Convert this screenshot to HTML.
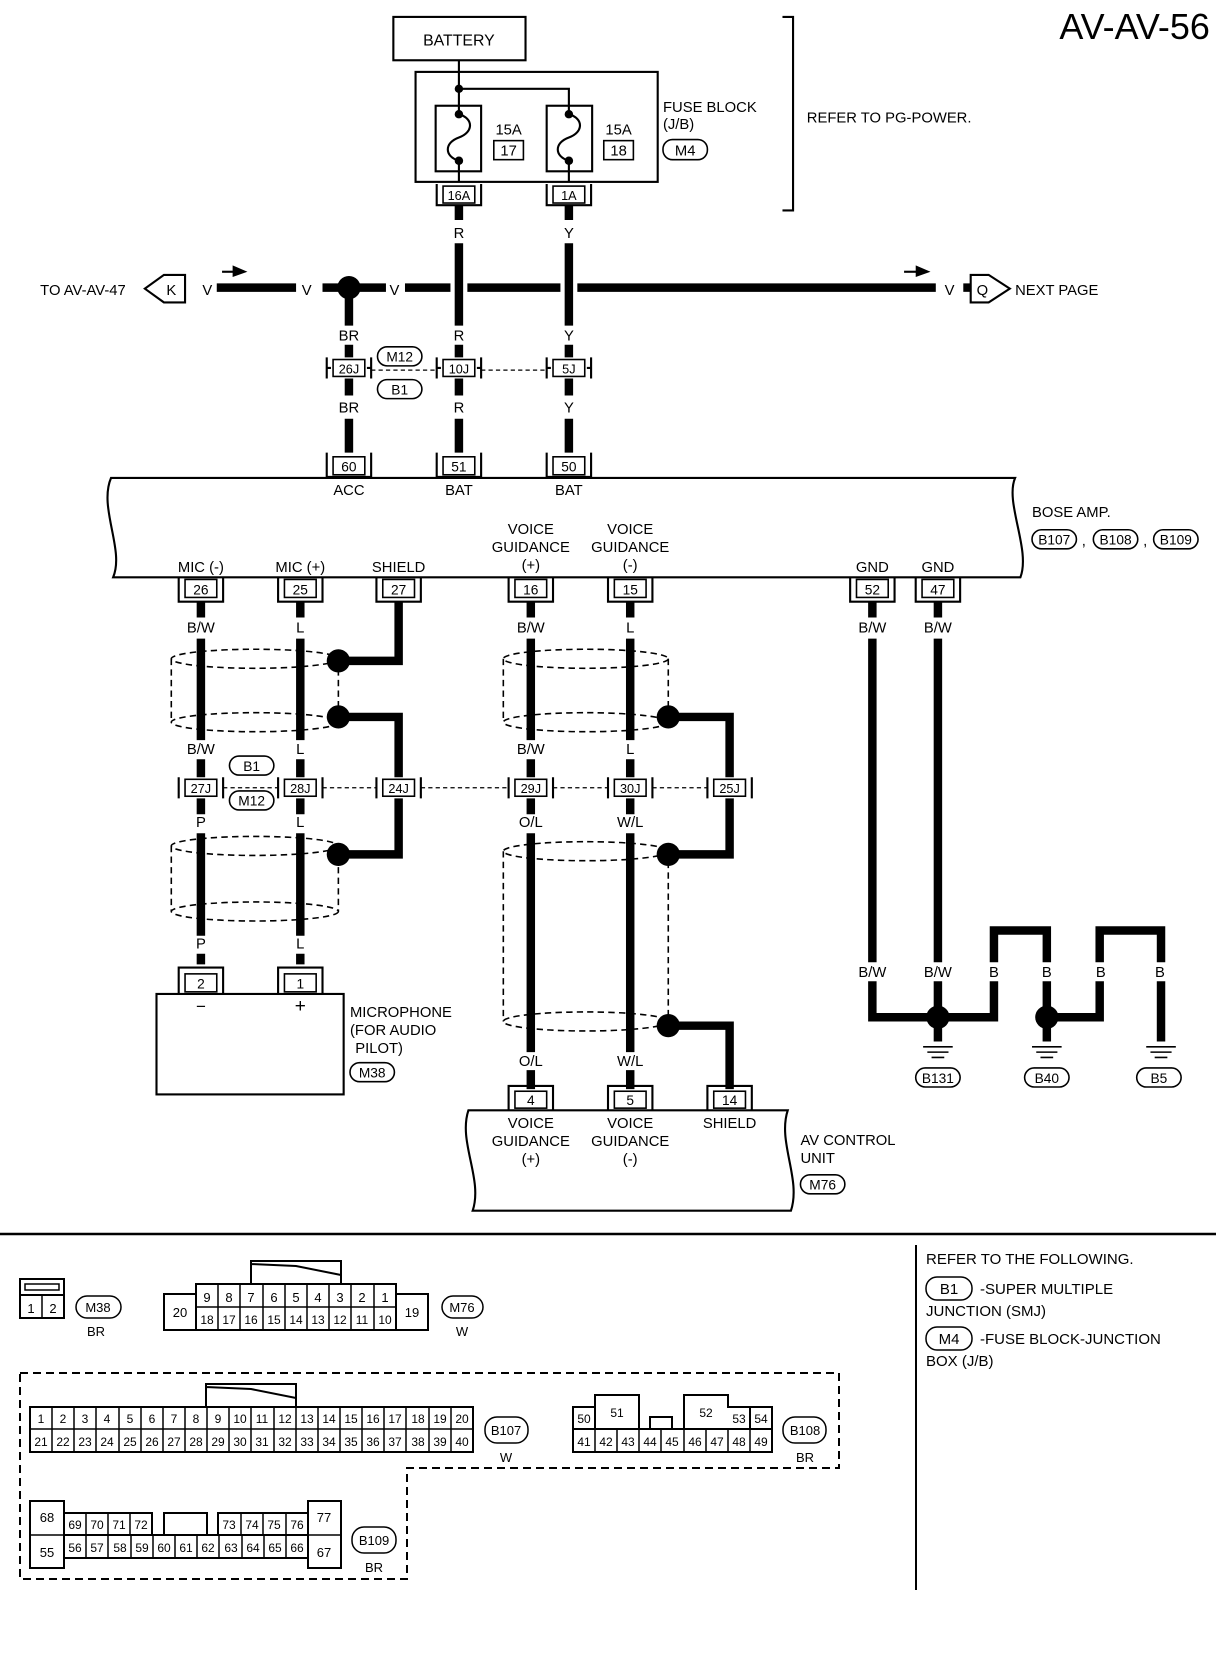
<!DOCTYPE html>
<html><head><meta charset="utf-8"><style>
html,body{margin:0;padding:0;background:#fff}
svg{display:block}
text{font-family:"Liberation Sans",sans-serif;fill:#000}
</style></head><body>
<svg width="1216" height="1660" viewBox="0 0 1216 1660" xmlns="http://www.w3.org/2000/svg">
<g transform="scale(1.0574)">
<g font-size="14" text-anchor="middle">
<text x="1073" y="37" font-size="34">AV-AV-56</text>
<!-- battery -->
<rect x="372" y="16" width="125" height="41" fill="none" stroke="#000" stroke-width="2"/>
<text x="434" y="43" font-size="15">BATTERY</text>
<line x1="434" y1="57" x2="434" y2="84" stroke="#000" stroke-width="2"/>
<rect x="393" y="68" width="229" height="104" fill="none" stroke="#000" stroke-width="2"/>
<path d="M434 84 H538 V104" fill="none" stroke="#000" stroke-width="2"/>
<circle cx="434" cy="84" r="4"/>
<rect x="412" y="100" width="43" height="62" fill="none" stroke="#000" stroke-width="2"/>
<rect x="517" y="100" width="43" height="62" fill="none" stroke="#000" stroke-width="2"/>
<path d="M434 84 V108 C448 112,448 125,434 130 C420 135,420 148,434 152 V172" fill="none" stroke="#000" stroke-width="2"/>
<path d="M538 104 V108 C552 112,552 125,538 130 C524 135,524 148,538 152 V172" fill="none" stroke="#000" stroke-width="2"/>
<circle cx="434" cy="108" r="4"/><circle cx="434" cy="152" r="4"/>
<circle cx="538" cy="108" r="4"/><circle cx="538" cy="152" r="4"/>
<text x="481" y="127">15A</text><rect x="467" y="133" width="28" height="18" fill="none" stroke="#000" stroke-width="1.5"/><text x="481" y="147">17</text>
<text x="585" y="127">15A</text><rect x="571" y="133" width="28" height="18" fill="none" stroke="#000" stroke-width="1.5"/><text x="585" y="147">18</text>
<text x="627" y="106" text-anchor="start">FUSE BLOCK</text>
<text x="627" y="122" text-anchor="start">(J/B)</text>
<rect x="627" y="132" width="42" height="19" rx="9" fill="none" stroke="#000" stroke-width="1.5"/><text x="648" y="147">M4</text>
<path d="M740 16 H750 V199 H740" fill="none" stroke="#000" stroke-width="2"/>
<text x="763" y="116" text-anchor="start">REFER TO PG-POWER.</text>

<g fill="none" stroke="#000">
<path d="M413 174 V194 H455 V174" stroke-width="2"/><rect x="419" y="176" width="30" height="16" stroke-width="1.5"/>
<path d="M517 174 V194 H559 V174" stroke-width="2"/><rect x="523" y="176" width="30" height="16" stroke-width="1.5"/>
</g>
<text x="434" y="189" font-size="12">16A</text><text x="538" y="189" font-size="12">1A</text>

<g stroke="#000" stroke-width="8" fill="none">
<path d="M434 194 V208 M434 230 V308 M434 326 V338 M434 358 V374 M434 396 V428"/>
<path d="M538 194 V208 M538 230 V308 M538 326 V338 M538 358 V374 M538 396 V428"/>
<path d="M330 272 V308 M330 326 V338 M330 358 V374 M330 396 V428"/>
<path d="M205 272 H280 M305 272 H365 M383 272 H426 M442 272 H530 M546 272 H885"/>
<path d="M911 272 H918"/>
</g>
<circle cx="330" cy="272" r="11"/>
<path d="M210 257 H222" stroke="#000" stroke-width="2"/><path d="M220 251 L234 257 L220 262 Z"/>
<path d="M855 257 H868" stroke="#000" stroke-width="2"/><path d="M866 251 L880 257 L866 262 Z"/>
<text x="196" y="279">V</text><text x="290" y="279">V</text><text x="373" y="279">V</text><text x="898" y="279">V</text>
<text x="38" y="279" text-anchor="start">TO AV-AV-47</text>
<path d="M175 260 H155 L137 273 L155 286 H175 Z" fill="none" stroke="#000" stroke-width="2"/><text x="162" y="279">K</text>
<path d="M918 260 H935 L955 273 L935 286 H918 Z" fill="none" stroke="#000" stroke-width="2"/><text x="929" y="279">Q</text>
<text x="960" y="279" text-anchor="start">NEXT PAGE</text>
<text x="434" y="225">R</text><text x="538" y="225">Y</text>
<text x="330" y="322">BR</text><text x="434" y="322">R</text><text x="538" y="322">Y</text>
<text x="330" y="390">BR</text><text x="434" y="390">R</text><text x="538" y="390">Y</text>
<g fill="none" stroke="#000">
<path d="M309 338 V358 M351 338 V358 M309 348 H313 M347 348 H351" stroke-width="2"/><rect x="315" y="340" width="30" height="16" stroke-width="1.5"/>
<path d="M413 338 V358 M455 338 V358 M413 348 H417 M451 348 H455" stroke-width="2"/><rect x="419" y="340" width="30" height="16" stroke-width="1.5"/>
<path d="M517 338 V358 M559 338 V358 M517 348 H521 M555 348 H559" stroke-width="2"/><rect x="523" y="340" width="30" height="16" stroke-width="1.5"/>
<path d="M351 350 H413 M455 350 H517" stroke-width="1.2" stroke-dasharray="4,3"/>
<rect x="357" y="328" width="42" height="18" rx="9" stroke-width="1.5"/>
<rect x="357" y="359" width="42" height="18" rx="9" stroke-width="1.5"/>
</g>
<text x="330" y="353" font-size="12">26J</text><text x="434" y="353" font-size="12">10J</text><text x="538" y="353" font-size="12">5J</text>
<text x="378" y="342" font-size="13">M12</text><text x="378" y="373" font-size="13">B1</text>
<g fill="none" stroke="#000">
<path d="M309 428 V451 H351 V428" stroke-width="2"/><rect x="315" y="432" width="30" height="17" stroke-width="1.5"/>
<path d="M413 428 V451 H455 V428" stroke-width="2"/><rect x="419" y="432" width="30" height="17" stroke-width="1.5"/>
<path d="M517 428 V451 H559 V428" stroke-width="2"/><rect x="523" y="432" width="30" height="17" stroke-width="1.5"/>
</g>
<text x="330" y="446" font-size="13">60</text><text x="434" y="446" font-size="13">51</text><text x="538" y="446" font-size="13">50</text>
<text x="330" y="468">ACC</text><text x="434" y="468">BAT</text><text x="538" y="468">BAT</text>

<path d="M105 452 H960 C950 475,975 520,965 546 H107 C118 520,93 480,105 452 Z" fill="none" stroke="#000" stroke-width="2"/>
<text x="976" y="489" text-anchor="start">BOSE AMP.</text>
<g fill="none" stroke="#000" stroke-width="1.5">
<rect x="976" y="501" width="42" height="18" rx="9"/><rect x="1034" y="501" width="42" height="18" rx="9"/><rect x="1091" y="501" width="42" height="18" rx="9"/>
</g>
<text x="997" y="515" font-size="13">B107</text><text x="1025" y="516">,</text><text x="1055" y="515" font-size="13">B108</text><text x="1083" y="516">,</text><text x="1112" y="515" font-size="13">B109</text>
<text x="190" y="541">MIC (-)</text><text x="284" y="541">MIC (+)</text><text x="377" y="541">SHIELD</text>
<text x="502" y="505">VOICE</text><text x="502" y="522">GUIDANCE</text><text x="502" y="539">(+)</text>
<text x="596" y="505">VOICE</text><text x="596" y="522">GUIDANCE</text><text x="596" y="539">(-)</text>
<text x="825" y="541">GND</text><text x="887" y="541">GND</text>
<g fill="none" stroke="#000">
<path d="M169 546 V569 H211 V546" stroke-width="2"/><rect x="175" y="548" width="30" height="17" stroke-width="1.5"/>
<path d="M263 546 V569 H305 V546" stroke-width="2"/><rect x="269" y="548" width="30" height="17" stroke-width="1.5"/>
<path d="M356 546 V569 H398 V546" stroke-width="2"/><rect x="362" y="548" width="30" height="17" stroke-width="1.5"/>
<path d="M481 546 V569 H523 V546" stroke-width="2"/><rect x="487" y="548" width="30" height="17" stroke-width="1.5"/>
<path d="M575 546 V569 H617 V546" stroke-width="2"/><rect x="581" y="548" width="30" height="17" stroke-width="1.5"/>
<path d="M804 546 V569 H846 V546" stroke-width="2"/><rect x="810" y="548" width="30" height="17" stroke-width="1.5"/>
<path d="M866 546 V569 H908 V546" stroke-width="2"/><rect x="872" y="548" width="30" height="17" stroke-width="1.5"/>
</g>
<g font-size="13"><text x="190" y="562">26</text><text x="284" y="562">25</text><text x="377" y="562">27</text><text x="502" y="562">16</text><text x="596" y="562">15</text><text x="825" y="562">52</text><text x="887" y="562">47</text></g>

<g stroke="#000" stroke-width="8" fill="none">
<path d="M190 569 V584 M190 604 V700 M190 718 V735 M190 755 V770 M190 788 V885 M190 902 V912"/>
<path d="M284 569 V584 M284 604 V700 M284 718 V735 M284 755 V770 M284 788 V885 M284 902 V912"/>
<path d="M377 569 V625 H320 M320 678 H377 V735 M377 755 V808 H320"/>
<path d="M502 569 V584 M502 604 V700 M502 718 V735 M502 755 V770 M502 788 V995 M502 1012 V1030"/>
<path d="M596 569 V584 M596 604 V700 M596 718 V735 M596 755 V770 M596 788 V995 M596 1012 V1030"/>
<path d="M632 678 H690 V735 M690 755 V808 H632 M632 970 H690 V1030"/>
<path d="M825 569 V584 M825 604 V910 M825 928 V962 H887"/>
<path d="M887 569 V584 M887 604 V910 M887 928 V985"/>
<path d="M887 962 H940 V928 M940 910 V880 H990 V910 M990 928 V985"/>
<path d="M990 962 H1040 V928 M1040 910 V880 H1098 V910 M1098 928 V985"/>
</g>
<g><circle cx="320" cy="625" r="11"/><circle cx="320" cy="678" r="11"/><circle cx="320" cy="808" r="11"/>
<circle cx="632" cy="678" r="11"/><circle cx="632" cy="808" r="11"/><circle cx="632" cy="970" r="11"/>
<circle cx="887" cy="962" r="11"/><circle cx="990" cy="962" r="11"/></g>
<g fill="none" stroke="#000" stroke-width="1.5" stroke-dasharray="6,4">
<ellipse cx="241" cy="623" rx="79" ry="9"/><ellipse cx="241" cy="683" rx="79" ry="9"/><path d="M162 623 V683 M320 623 V683"/>
<ellipse cx="241" cy="800" rx="79" ry="9"/><ellipse cx="241" cy="862" rx="79" ry="9"/><path d="M162 800 V862 M320 800 V862"/>
<ellipse cx="554" cy="623" rx="78" ry="9"/><ellipse cx="554" cy="683" rx="78" ry="9"/><path d="M476 623 V683 M632 623 V683"/>
<ellipse cx="554" cy="805" rx="78" ry="9"/><ellipse cx="554" cy="966" rx="78" ry="9"/><path d="M476 805 V966 M632 805 V966"/>
</g>
<g><text x="190" y="598">B/W</text><text x="284" y="598">L</text><text x="502" y="598">B/W</text><text x="596" y="598">L</text><text x="825" y="598">B/W</text><text x="887" y="598">B/W</text>
<text x="190" y="713">B/W</text><text x="284" y="713">L</text><text x="502" y="713">B/W</text><text x="596" y="713">L</text>
<text x="190" y="782">P</text><text x="284" y="782">L</text><text x="502" y="782">O/L</text><text x="596" y="782">W/L</text>
<text x="190" y="897">P</text><text x="284" y="897">L</text>
<text x="502" y="1008">O/L</text><text x="596" y="1008">W/L</text>
<text x="825" y="924">B/W</text><text x="887" y="924">B/W</text><text x="940" y="924">B</text><text x="990" y="924">B</text><text x="1041" y="924">B</text><text x="1097" y="924">B</text></g>
<g fill="none" stroke="#000">
<path d="M169 735 V755 M211 735 V755" stroke-width="2"/><rect x="175" y="737" width="30" height="16" stroke-width="1.5"/>
<path d="M263 735 V755 M305 735 V755" stroke-width="2"/><rect x="269" y="737" width="30" height="16" stroke-width="1.5"/>
<path d="M356 735 V755 M398 735 V755" stroke-width="2"/><rect x="362" y="737" width="30" height="16" stroke-width="1.5"/>
<path d="M481 735 V755 M523 735 V755" stroke-width="2"/><rect x="487" y="737" width="30" height="16" stroke-width="1.5"/>
<path d="M575 735 V755 M617 735 V755" stroke-width="2"/><rect x="581" y="737" width="30" height="16" stroke-width="1.5"/>
<path d="M669 735 V755 M711 735 V755" stroke-width="2"/><rect x="675" y="737" width="30" height="16" stroke-width="1.5"/>
<path d="M211 745 H263 M305 745 H356 M398 745 H481 M523 745 H575 M617 745 H669" stroke-width="1.2" stroke-dasharray="4,3"/>
<rect x="217" y="715" width="42" height="18" rx="9" stroke-width="1.5"/>
<rect x="217" y="748" width="42" height="18" rx="9" stroke-width="1.5"/>
</g>
<g font-size="12"><text x="190" y="750">27J</text><text x="284" y="750">28J</text><text x="377" y="750">24J</text><text x="502" y="750">29J</text><text x="596" y="750">30J</text><text x="690" y="750">25J</text></g>
<text x="238" y="729" font-size="13">B1</text><text x="238" y="762" font-size="13">M12</text>
<g fill="none" stroke="#000">
<path d="M169 940 V915 H211 V940" stroke-width="2"/><rect x="175" y="921" width="30" height="17" stroke-width="1.5"/>
<path d="M263 940 V915 H305 V940" stroke-width="2"/><rect x="269" y="921" width="30" height="17" stroke-width="1.5"/>
<rect x="148" y="940" width="177" height="95" stroke-width="2"/>
<rect x="331" y="1005" width="42" height="18" rx="9" stroke-width="1.5"/>
</g>
<text x="190" y="935" font-size="13">2</text><text x="284" y="935" font-size="13">1</text>
<text x="190" y="957" font-size="16">−</text><text x="284" y="957" font-size="18">+</text>
<g text-anchor="start"><text x="331" y="962">MICROPHONE</text><text x="331" y="979">(FOR AUDIO</text><text x="336" y="996">PILOT)</text></g>
<text x="352" y="1019" font-size="13">M38</text>
<g stroke="#000" stroke-width="1.5">
<path d="M873 990 H901 M877 995 H897 M881 1000 H893"/>
<path d="M976 990 H1004 M980 995 H1000 M984 1000 H996"/>
<path d="M1084 990 H1112 M1088 995 H1108 M1092 1000 H1104"/>
</g>
<g fill="none" stroke="#000" stroke-width="1.5"><rect x="866" y="1010" width="42" height="18" rx="9"/><rect x="969" y="1010" width="42" height="18" rx="9"/><rect x="1075" y="1010" width="42" height="18" rx="9"/></g>
<text x="887" y="1024" font-size="13">B131</text><text x="990" y="1024" font-size="13">B40</text><text x="1096" y="1024" font-size="13">B5</text>
<g fill="none" stroke="#000">
<path d="M481 1050 V1027 H523 V1050" stroke-width="2"/><rect x="487" y="1032" width="30" height="16" stroke-width="1.5"/>
<path d="M575 1050 V1027 H617 V1050" stroke-width="2"/><rect x="581" y="1032" width="30" height="16" stroke-width="1.5"/>
<path d="M669 1050 V1027 H711 V1050" stroke-width="2"/><rect x="675" y="1032" width="30" height="16" stroke-width="1.5"/>
<path d="M443 1050 H745 C735 1080,758 1115,748 1145 H447 C457 1115,433 1080,443 1050 Z" stroke-width="2"/>
<rect x="757" y="1111" width="42" height="18" rx="9" stroke-width="1.5"/>
</g>
<g font-size="13"><text x="502" y="1045">4</text><text x="596" y="1045">5</text><text x="690" y="1045">14</text></g>
<text x="502" y="1067">VOICE</text><text x="502" y="1084">GUIDANCE</text><text x="502" y="1101">(+)</text>
<text x="596" y="1067">VOICE</text><text x="596" y="1084">GUIDANCE</text><text x="596" y="1101">(-)</text>
<text x="690" y="1067">SHIELD</text>
<text x="757" y="1083" text-anchor="start">AV CONTROL</text><text x="757" y="1100" text-anchor="start">UNIT</text>
<text x="778" y="1125" font-size="13">M76</text>
</g>
</g>

<g font-size="13" text-anchor="middle" fill="none" stroke="#000">
<line x1="0" y1="1234" x2="1216" y2="1234" stroke-width="2.5"/>
<line x1="916" y1="1245" x2="916" y2="1590" stroke-width="2"/>
<rect x="20" y="1279" width="44" height="39" stroke-width="2"/><line x1="20" y1="1295" x2="64" y2="1295" stroke-width="2"/>
<rect x="25" y="1284" width="34" height="6" stroke-width="1.5"/><line x1="42" y1="1295" x2="42" y2="1318" stroke-width="1.5"/>
<rect x="76" y="1296" width="45" height="22" rx="11" stroke-width="1.5"/>
<path d="M251 1284 V1261 H341 V1284 M251 1264 L296 1266 L341 1275" stroke-width="2"/>
<rect x="196" y="1284" width="200" height="46" stroke-width="2"/><line x1="196" y1="1307" x2="396" y2="1307" stroke-width="1.5"/>
<rect x="164" y="1294" width="32" height="36" stroke-width="2"/><rect x="396" y="1294" width="32" height="36" stroke-width="2"/>
<path d="M218 1284 V1330 M240 1284 V1330 M263 1284 V1330 M285 1284 V1330 M307 1284 V1330 M329 1284 V1330 M351 1284 V1330 M374 1284 V1330" stroke-width="1.5"/>
<rect x="442" y="1296" width="41" height="22" rx="11" stroke-width="1.5"/>
<path d="M20 1373 H839 V1468 H407 V1579 H20 Z" stroke-width="2" stroke-dasharray="8,5"/>
<path d="M206 1407 V1384 H296 V1407 M206 1387 L251 1389 L296 1398" stroke-width="2"/>
<rect x="30" y="1407" width="443" height="45" stroke-width="2"/><line x1="30" y1="1429" x2="473" y2="1429" stroke-width="1.5"/>
<path d="M52 1407V1452M74 1407V1452M96 1407V1452M119 1407V1452M141 1407V1452M163 1407V1452M185 1407V1452M207 1407V1452M229 1407V1452M251 1407V1452M274 1407V1452M296 1407V1452M318 1407V1452M340 1407V1452M362 1407V1452M384 1407V1452M406 1407V1452M429 1407V1452M451 1407V1452" stroke-width="1.5"/>
<rect x="485" y="1417" width="43" height="26" rx="12" stroke-width="1.5"/>
<rect x="573" y="1429" width="199" height="23" stroke-width="2"/>
<path d="M595 1429V1452M617 1429V1452M639 1429V1452M661 1429V1452M684 1429V1452M706 1429V1452M728 1429V1452M750 1429V1452" stroke-width="1.5"/>
<path d="M573 1429 V1407 H595 V1395 H639 V1429 M650 1429 V1417 H672 V1429 M684 1429 V1395 H728 V1407 H772 V1429 M750 1407 V1429 M595 1407 V1429" stroke-width="2"/>
<rect x="783" y="1417" width="43" height="26" rx="12" stroke-width="1.5"/>
<rect x="30" y="1501" width="34" height="67" stroke-width="2"/><line x1="30" y1="1535" x2="64" y2="1535" stroke-width="1.5"/>
<rect x="308" y="1501" width="33" height="67" stroke-width="2"/><line x1="308" y1="1535" x2="341" y2="1535" stroke-width="1.5"/>
<rect x="64" y="1535" width="244" height="23" stroke-width="2"/>
<path d="M86 1535V1558M108 1535V1558M131 1535V1558M153 1535V1558M175 1535V1558M197 1535V1558M219 1535V1558M242 1535V1558M264 1535V1558M286 1535V1558" stroke-width="1.5"/>
<rect x="64" y="1513" width="88" height="22" stroke-width="2"/><path d="M86 1513V1535M108 1513V1535M130 1513V1535" stroke-width="1.5"/>
<rect x="164" y="1513" width="43" height="22" stroke-width="2"/>
<rect x="218" y="1513" width="90" height="22" stroke-width="2"/><path d="M241 1513V1535M263 1513V1535M286 1513V1535" stroke-width="1.5"/>
<rect x="352" y="1527" width="44" height="26" rx="12" stroke-width="1.5"/>
<rect x="926" y="1277" width="46" height="23" rx="11" stroke-width="1.5"/>
<rect x="926" y="1327" width="46" height="23" rx="11" stroke-width="1.5"/>
</g>
<g font-size="13" text-anchor="middle">
<text x="31" y="1313">1</text><text x="53" y="1313">2</text><text x="98" y="1312">M38</text><text x="96" y="1336">BR</text>
<text x="207" y="1302">9</text><text x="229" y="1302">8</text><text x="251" y="1302">7</text><text x="274" y="1302">6</text><text x="296" y="1302">5</text><text x="318" y="1302">4</text><text x="340" y="1302">3</text><text x="362" y="1302">2</text><text x="385" y="1302">1</text>
<g font-size="12"><text x="207" y="1324">18</text><text x="229" y="1324">17</text><text x="251" y="1324">16</text><text x="274" y="1324">15</text><text x="296" y="1324">14</text><text x="318" y="1324">13</text><text x="340" y="1324">12</text><text x="362" y="1324">11</text><text x="385" y="1324">10</text></g>
<text x="180" y="1317">20</text><text x="412" y="1317">19</text><text x="462" y="1312">M76</text><text x="462" y="1336">W</text>
<g font-size="12">
<text x="41" y="1423">1</text><text x="63" y="1423">2</text><text x="85" y="1423">3</text><text x="107" y="1423">4</text><text x="130" y="1423">5</text><text x="152" y="1423">6</text><text x="174" y="1423">7</text><text x="196" y="1423">8</text><text x="218" y="1423">9</text><text x="240" y="1423">10</text><text x="262" y="1423">11</text><text x="285" y="1423">12</text><text x="307" y="1423">13</text><text x="329" y="1423">14</text><text x="351" y="1423">15</text><text x="373" y="1423">16</text><text x="395" y="1423">17</text><text x="418" y="1423">18</text><text x="440" y="1423">19</text><text x="462" y="1423">20</text>
<text x="41" y="1446">21</text><text x="63" y="1446">22</text><text x="85" y="1446">23</text><text x="107" y="1446">24</text><text x="130" y="1446">25</text><text x="152" y="1446">26</text><text x="174" y="1446">27</text><text x="196" y="1446">28</text><text x="218" y="1446">29</text><text x="240" y="1446">30</text><text x="262" y="1446">31</text><text x="285" y="1446">32</text><text x="307" y="1446">33</text><text x="329" y="1446">34</text><text x="351" y="1446">35</text><text x="373" y="1446">36</text><text x="395" y="1446">37</text><text x="418" y="1446">38</text><text x="440" y="1446">39</text><text x="462" y="1446">40</text>
<text x="584" y="1423">50</text><text x="617" y="1417">51</text><text x="706" y="1417">52</text><text x="739" y="1423">53</text><text x="761" y="1423">54</text>
<text x="584" y="1446">41</text><text x="606" y="1446">42</text><text x="628" y="1446">43</text><text x="650" y="1446">44</text><text x="672" y="1446">45</text><text x="695" y="1446">46</text><text x="717" y="1446">47</text><text x="739" y="1446">48</text><text x="761" y="1446">49</text>
<text x="75" y="1529">69</text><text x="97" y="1529">70</text><text x="119" y="1529">71</text><text x="141" y="1529">72</text><text x="229" y="1529">73</text><text x="252" y="1529">74</text><text x="274" y="1529">75</text><text x="297" y="1529">76</text>
<text x="75" y="1552">56</text><text x="97" y="1552">57</text><text x="120" y="1552">58</text><text x="142" y="1552">59</text><text x="164" y="1552">60</text><text x="186" y="1552">61</text><text x="208" y="1552">62</text><text x="231" y="1552">63</text><text x="253" y="1552">64</text><text x="275" y="1552">65</text><text x="297" y="1552">66</text>
</g>
<text x="47" y="1522">68</text><text x="47" y="1557">55</text><text x="324" y="1522">77</text><text x="324" y="1557">67</text>
<text x="506" y="1435">B107</text><text x="506" y="1462">W</text>
<text x="805" y="1435">B108</text><text x="805" y="1462">BR</text>
<text x="374" y="1545">B109</text><text x="374" y="1572">BR</text>
</g>
<g font-size="15">
<text x="926" y="1264">REFER TO THE FOLLOWING.</text>
<text x="949" y="1294" text-anchor="middle">B1</text><text x="980" y="1294">-SUPER MULTIPLE</text>
<text x="926" y="1316">JUNCTION (SMJ)</text>
<text x="949" y="1344" text-anchor="middle">M4</text><text x="980" y="1344">-FUSE BLOCK-JUNCTION</text>
<text x="926" y="1366">BOX (J/B)</text>
</g>
</svg>
</body></html>
